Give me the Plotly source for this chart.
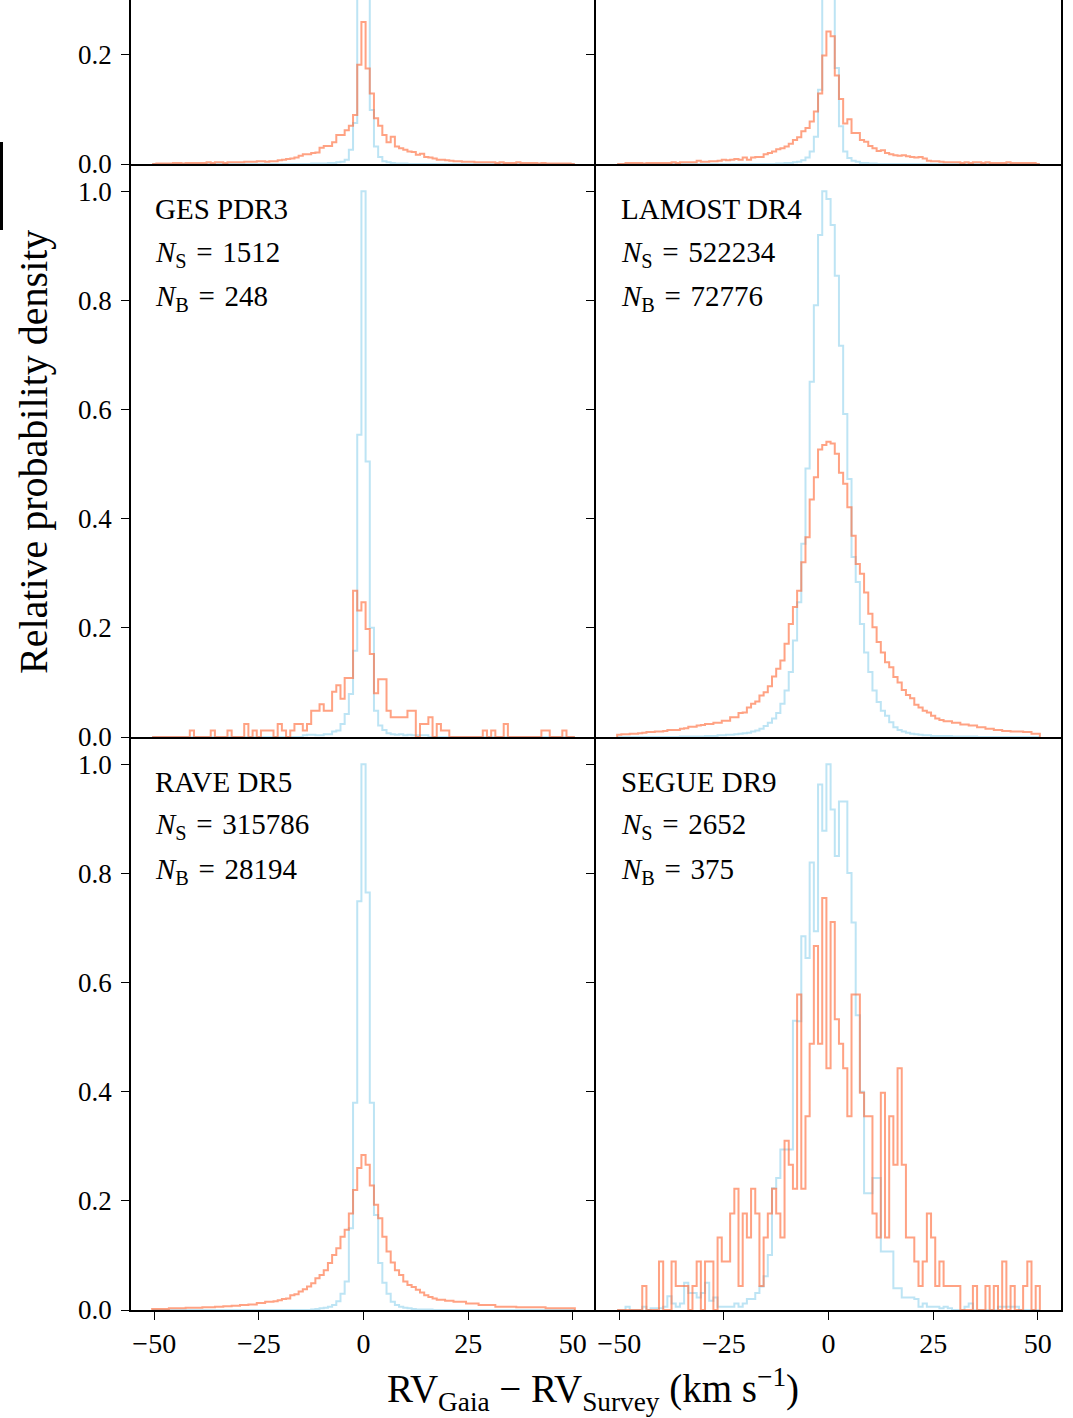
import plotly.graph_objects as go

# Histogram bins: unit-width bins centred on -50 ... 50 km/s
BIN_CENTERS = list(range(-50, 51))

# ---- top row (panels cut at the top of the page) ----
TL_BLUE = [
    0, 0, 0, 0, 0, 0, 0, 0, 0, 0,
    0, 0, 0, 0, 0, 0, 0, 0, 0, 0,
    0, 0, 0, 0, 0, 0, 0, 0, 0, 0,
    0, 0, 0, 0, 0, 0, 0, 0, 0.001, 0.001,
    0.001, 0.001, 0.002, 0.002, 0.003, 0.004, 0.008, 0.026, 0.075, 0.55,
    1.0,
    0.6, 0.099, 0.032, 0.013, 0.005, 0.003, 0.002, 0.001, 0.001, 0.001,
    0, 0, 0, 0, 0, 0, 0, 0, 0, 0,
    0, 0, 0, 0, 0, 0, 0, 0, 0, 0,
    0, 0, 0, 0, 0, 0, 0, 0, 0, 0,
    0, 0, 0, 0, 0, 0, 0, 0, 0, 0,
]

TL_ORANGE = [
    0.0, 0.001, 0.001, 0.001, 0.001, 0.002, 0.002, 0.001, 0.002, 0.002,
    0.002, 0.002, 0.002, 0.003, 0.002, 0.003, 0.003, 0.002, 0.003, 0.003,
    0.003, 0.003, 0.004, 0.004, 0.004, 0.005, 0.005, 0.004, 0.005, 0.005,
    0.007, 0.008, 0.009, 0.010, 0.012, 0.015, 0.018, 0.018, 0.020, 0.021,
    0.030, 0.033, 0.033, 0.040, 0.053, 0.053, 0.062, 0.070, 0.090, 0.182,
    0.260,
    0.175, 0.129, 0.084, 0.070, 0.053, 0.040, 0.050, 0.032, 0.029, 0.026,
    0.023, 0.022, 0.017, 0.019, 0.013, 0.012, 0.010, 0.008, 0.008, 0.007,
    0.006, 0.005, 0.005, 0.004, 0.004, 0.004, 0.003, 0.003, 0.003, 0.003,
    0.003, 0.002, 0.003, 0.002, 0.002, 0.002, 0.003, 0.002, 0.002, 0.002,
    0.002, 0.001, 0.002, 0.001, 0.001, 0.001, 0.001, 0.001, 0.001, 0.0,
]

TR_BLUE = [
    0, 0, 0, 0, 0, 0, 0, 0, 0, 0,
    0, 0, 0, 0, 0, 0, 0, 0, 0, 0,
    0, 0, 0, 0, 0, 0, 0, 0, 0, 0,
    0, 0, 0, 0, 0, 0, 0, 0, 0.001, 0.001,
    0.002, 0.002, 0.003, 0.004, 0.007, 0.012, 0.023, 0.050, 0.136, 0.70,
    1.0,
    0.75, 0.176, 0.069, 0.023, 0.011, 0.006, 0.004, 0.002, 0.002, 0.001,
    0.001, 0, 0, 0, 0, 0, 0, 0, 0, 0,
    0, 0, 0, 0, 0, 0, 0, 0, 0, 0,
    0, 0, 0, 0, 0, 0, 0, 0, 0, 0,
    0, 0, 0, 0, 0, 0, 0, 0, 0, 0,
]

TR_ORANGE = [
    0, 0, 0.002, 0.002, 0.002, 0.002, 0.001, 0.002, 0.002, 0.002,
    0.002, 0.002, 0.002, 0.003, 0.002, 0.003, 0.003, 0.003, 0.003, 0.006,
    0.004, 0.004, 0.005, 0.005, 0.006, 0.008, 0.007, 0.008, 0.009, 0.008,
    0.012, 0.008, 0.012, 0.013, 0.013, 0.018, 0.020, 0.023, 0.027, 0.029,
    0.032, 0.037, 0.044, 0.049, 0.060, 0.066, 0.078, 0.096, 0.129, 0.199,
    0.243,
    0.234, 0.162, 0.119, 0.074, 0.082, 0.057, 0.057, 0.044, 0.041, 0.033,
    0.029, 0.024, 0.025, 0.020, 0.018, 0.016, 0.015, 0.016, 0.014, 0.013,
    0.012, 0.013, 0.010, 0.006, 0.005, 0.005, 0.004, 0.003, 0.003, 0.003,
    0.003, 0.002, 0.003, 0.002, 0.003, 0.003, 0.002, 0.003, 0.002, 0.002,
    0.002, 0.002, 0.003, 0.002, 0.002, 0.002, 0.002, 0.002, 0.002, 0.0,
]

# ---- GES PDR3 ----
GES_BLUE = [
    0, 0, 0, 0, 0, 0, 0, 0, 0, 0,
    0, 0, 0, 0, 0, 0, 0, 0, 0, 0,
    0, 0, 0, 0, 0, 0, 0, 0, 0, 0,
    0, 0, 0, 0, 0, 0, 0.003, 0.004, 0.004, 0.003,
    0.003, 0.005, 0.005, 0.010, 0.012, 0.024, 0.042, 0.079, 0.158, 0.554,
    1.0,
    0.505, 0.200, 0.048, 0.021, 0.013, 0.007, 0.005, 0.004, 0.005, 0.003,
    0.004, 0.003, 0.003, 0.003, 0.003, 0, 0, 0, 0, 0,
    0, 0, 0, 0, 0, 0, 0, 0, 0, 0,
    0, 0, 0, 0, 0, 0, 0, 0, 0, 0,
    0, 0, 0, 0, 0, 0, 0, 0, 0, 0,
]

GES_ORANGE = [
    0, 0, 0, 0, 0, 0, 0, 0, 0, 0.012,
    0, 0, 0, 0, 0.012, 0, 0, 0, 0.012, 0,
    0, 0, 0.024, 0, 0.012, 0, 0.012, 0.012, 0.012, 0,
    0.024, 0.012, 0, 0.012, 0.024, 0.024, 0.012, 0.024, 0.048, 0.048,
    0.060, 0.048, 0.048, 0.083, 0.095, 0.070, 0.108, 0.108, 0.268, 0.232,
    0.247,
    0.198, 0.152, 0.080, 0.106, 0.106, 0.048, 0.036, 0.036, 0.036, 0.036,
    0.048, 0.048, 0, 0.024, 0.024, 0.036, 0, 0.024, 0.012, 0.012,
    0, 0, 0, 0, 0, 0, 0, 0, 0.012, 0,
    0.012, 0, 0, 0.024, 0, 0, 0, 0, 0, 0,
    0, 0, 0.012, 0.012, 0, 0, 0, 0.012, 0, 0,
]

# ---- LAMOST DR4 ----
LAMOST_BLUE = [
    0, 0, 0, 0, 0, 0, 0, 0, 0, 0,
    0, 0, 0, 0, 0, 0.001, 0.001, 0.001, 0.001, 0.001,
    0.001, 0.002, 0.002, 0.002, 0.003, 0.003, 0.004, 0.004, 0.005, 0.006,
    0.007, 0.008, 0.010, 0.012, 0.015, 0.020, 0.026, 0.034, 0.044, 0.061,
    0.085, 0.119, 0.177, 0.247, 0.354, 0.492, 0.651, 0.791, 0.920, 1.0,
    0.986,
    0.938, 0.845, 0.717, 0.592, 0.473, 0.330, 0.284, 0.207, 0.155, 0.119,
    0.085, 0.064, 0.048, 0.039, 0.027, 0.018, 0.013, 0.010, 0.008, 0.006,
    0.005, 0.004, 0.003, 0.003, 0.002, 0.002, 0.002, 0.002, 0.002, 0.001,
    0.001, 0.001, 0.001, 0.001, 0.001, 0, 0, 0, 0, 0,
    0, 0, 0, 0, 0, 0, 0, 0, 0, 0,
]

LAMOST_ORANGE = [
    0.004, 0.005, 0.005, 0.006, 0.006, 0.007, 0.008, 0.009, 0.009, 0.010,
    0.010, 0.011, 0.013, 0.013, 0.013, 0.015, 0.016, 0.019, 0.019, 0.021,
    0.022, 0.024, 0.024, 0.026, 0.026, 0.030, 0.030, 0.036, 0.036, 0.044,
    0.045, 0.054, 0.061, 0.065, 0.076, 0.082, 0.093, 0.111, 0.125, 0.140,
    0.171, 0.207, 0.238, 0.268, 0.320, 0.366, 0.435, 0.476, 0.527, 0.535,
    0.541,
    0.538, 0.519, 0.484, 0.464, 0.421, 0.369, 0.317, 0.299, 0.265, 0.226,
    0.201, 0.174, 0.155, 0.137, 0.128, 0.110, 0.100, 0.086, 0.077, 0.071,
    0.059, 0.054, 0.048, 0.045, 0.039, 0.034, 0.031, 0.029, 0.029, 0.026,
    0.026, 0.023, 0.023, 0.021, 0.021, 0.018, 0.018, 0.015, 0.015, 0.013,
    0.013, 0.011, 0.011, 0.010, 0.010, 0.010, 0.009, 0.009, 0.006, 0.006,
]

# ---- RAVE DR5 ----
RAVE_BLUE = [
    0, 0, 0, 0, 0, 0, 0, 0, 0, 0,
    0, 0, 0, 0, 0, 0, 0, 0, 0, 0,
    0, 0, 0, 0, 0, 0, 0, 0, 0, 0,
    0, 0, 0, 0, 0, 0, 0, 0, 0.001, 0.002,
    0.003, 0.004, 0.006, 0.009, 0.016, 0.030, 0.052, 0.150, 0.380, 0.749,
    1.0,
    0.765, 0.380, 0.174, 0.086, 0.050, 0.030, 0.015, 0.009, 0.006, 0.004,
    0.003, 0.002, 0.001, 0.001, 0.001, 0.001, 0, 0, 0, 0,
    0, 0, 0, 0, 0, 0, 0, 0, 0, 0,
    0, 0, 0, 0, 0, 0, 0, 0, 0, 0,
    0, 0, 0, 0, 0, 0, 0, 0, 0, 0,
]

RAVE_ORANGE = [
    0.002, 0.002, 0.002, 0.002, 0.003, 0.003, 0.003, 0.003, 0.004, 0.004,
    0.004, 0.004, 0.005, 0.005, 0.005, 0.006, 0.006, 0.007, 0.007, 0.008,
    0.008, 0.009, 0.009, 0.010, 0.010, 0.013, 0.013, 0.015, 0.015, 0.016,
    0.018, 0.020, 0.021, 0.027, 0.029, 0.034, 0.038, 0.043, 0.049, 0.058,
    0.064, 0.073, 0.086, 0.101, 0.113, 0.134, 0.147, 0.177, 0.220, 0.260,
    0.284,
    0.266, 0.228, 0.193, 0.168, 0.134, 0.107, 0.087, 0.073, 0.064, 0.052,
    0.046, 0.042, 0.037, 0.032, 0.027, 0.024, 0.021, 0.019, 0.019, 0.017,
    0.017, 0.015, 0.015, 0.015, 0.012, 0.012, 0.012, 0.009, 0.009, 0.009,
    0.009, 0.006, 0.006, 0.006, 0.006, 0.006, 0.005, 0.005, 0.005, 0.005,
    0.005, 0.005, 0.005, 0.003, 0.003, 0.003, 0.003, 0.003, 0.003, 0.003,
]

# ---- SEGUE DR9 ----
SEGUE_BLUE = [
    0, 0, 0.006, 0, 0, 0, 0.006, 0, 0.003, 0.003,
    0.003, 0.006, 0.025, 0.012, 0.006, 0.012, 0.050, 0.031, 0.031, 0.023,
    0.031, 0.050, 0.017, 0.023, 0.006, 0.006, 0.006, 0.006, 0.012, 0.006,
    0.012, 0.020, 0.020, 0.031, 0.043, 0.062, 0.101, 0.223, 0.242, 0.294,
    0.294, 0.294, 0.530, 0.529, 0.685, 0.645, 0.820, 0.694, 0.963, 0.878,
    1.0,
    0.917, 0.832, 0.932, 0.932, 0.801, 0.710, 0.540, 0.400, 0.214, 0.214,
    0.242, 0.242, 0.107, 0.107, 0.107, 0.040, 0.040, 0.023, 0.023, 0.023,
    0.020, 0.006, 0.012, 0.006, 0.006, 0.006, 0.003, 0.006, 0.003, 0,
    0, 0, 0.006, 0.012, 0, 0, 0, 0, 0, 0,
    0.006, 0.006, 0.006, 0.006, 0.006, 0, 0, 0, 0, 0,
]

SEGUE_ORANGE = [
    0, 0, 0, 0, 0, 0, 0.044, 0, 0, 0,
    0.089, 0, 0, 0.089, 0.044, 0.044, 0.044, 0, 0.044, 0.089,
    0, 0.089, 0.089, 0, 0.133, 0.089, 0.089, 0.177, 0.222, 0.044,
    0.177, 0.133, 0.222, 0.177, 0.044, 0.133, 0.177, 0.222, 0.177, 0.133,
    0.310, 0.266, 0.222, 0.578, 0.222, 0.355, 0.488, 0.667, 0.488, 0.755,
    0.443,
    0.711, 0.533, 0.488, 0.443, 0.355, 0.578, 0.578, 0.398, 0.355, 0.355,
    0.177, 0.133, 0.398, 0.133, 0.355, 0.266, 0.443, 0.266, 0.133, 0.133,
    0.089, 0.044, 0.089, 0.177, 0.133, 0.044, 0.089, 0.044, 0.044, 0.044,
    0.044, 0, 0, 0, 0.044, 0, 0, 0.044, 0, 0.044,
    0, 0.089, 0, 0.044, 0, 0, 0.044, 0.089, 0, 0.044,
]

SURVEY_NAMES = [None, None, "GES PDR3", "LAMOST DR4", "RAVE DR5", "SEGUE DR9"]
N_SINGLE = [None, None, 1512, 522234, 315786, 2652]
N_BINARY = [None, None, 248, 72776, 28194, 375]

PANEL_BLUE = [TL_BLUE, TR_BLUE, GES_BLUE, LAMOST_BLUE, RAVE_BLUE, SEGUE_BLUE]
PANEL_ORANGE = [TL_ORANGE, TR_ORANGE, GES_ORANGE, LAMOST_ORANGE, RAVE_ORANGE, SEGUE_ORANGE]

X_TICKS = [-50, -25, 0, 25, 50]
X_TICK_TEXT = ["\u221250", "\u221225", "0", "25", "50"]
Y_TICKS = [0.0, 0.2, 0.4, 0.6, 0.8, 1.0]

BLUE = "rgba(135, 206, 235, 0.55)"
ORANGE = "rgba(255, 105, 55, 0.62)"
FONT = "Liberation Serif"

# Page geometry (pixels)
W, H = 1073, 1418
ML, MR, MT, MB = 131, 12, 0, 108
PW, PH = W - ML - MR, H - MT - MB


def px_x(px):
    return (px - ML) / PW


def px_y(py):
    return (H - MB - py) / PH


row_px = [(None, 164), (164, 737), (737, 1310)]
row_dom = [[px_y(164), 1.0], [px_y(737), px_y(164)], [0.0, px_y(737)]]
col_dom = [[0.0, 0.5], [0.5, 1.0]]
units_per_px = 1.05 / 573.0
y_ranges = [[0, 164 * units_per_px], [0, 1.05], [0, 1.05]]

half = 0.5
edges = [c - half for c in BIN_CENTERS] + [BIN_CENTERS[-1] + half]


def step_xy(values):
    xs = [edges[0]] + edges[:-1] + [edges[-1]]
    ys = [0.0] + list(values) + [0.0]
    return xs, ys


fig = go.Figure()
layout = dict(
    width=W, height=H,
    margin=dict(l=ML, r=MR, t=MT, b=MB),
    paper_bgcolor="white", plot_bgcolor="white",
    showlegend=False,
    font=dict(family=FONT, color="black", size=27),
)

for p in range(6):
    r, c = divmod(p, 2)
    sfx = "" if p == 0 else str(p + 1)
    for vals, col in ((PANEL_BLUE[p], BLUE), (PANEL_ORANGE[p], ORANGE)):
        xs, ys = step_xy(vals)
        fig.add_trace(go.Scatter(
            x=xs, y=ys, mode="lines", line=dict(color=col, width=2, shape="hv"),
            xaxis="x" + sfx, yaxis="y" + sfx, hoverinfo="skip",
        ))
    # shared borders are drawn once: bottom line per panel, left line per
    # panel plus the right edge of the right-hand column
    layout["xaxis" + sfx] = dict(
        domain=col_dom[c], range=[-55.55, 55.55], anchor="y" + sfx,
        showline=True, linecolor="black", linewidth=1.6, mirror=False,
        showgrid=False, zeroline=False,
        ticks="outside" if r == 2 else "", ticklen=8, tickwidth=1.4, tickcolor="black",
        tickvals=X_TICKS, ticktext=X_TICK_TEXT, showticklabels=(r == 2),
        tickfont=dict(family=FONT, size=28, color="black"),
    )
    layout["yaxis" + sfx] = dict(
        domain=row_dom[r], range=y_ranges[r], anchor="x" + sfx,
        showline=True, linecolor="black", linewidth=1.6, mirror=(c == 1),
        showgrid=False, zeroline=False,
        ticks="outside", ticklen=8, tickwidth=1.4, tickcolor="black",
        tickvals=Y_TICKS, ticktext=["%.1f" % v for v in Y_TICKS],
        showticklabels=(c == 0), ticklabelstandoff=4,
        tickfont=dict(family=FONT, size=27, color="black"),
    )

EQ = "\u2004=\u2004"
annotations = []
for p in range(2, 6):
    r, c = divmod(p, 2)
    top = row_px[r][0]
    x0 = px_x(153 if c == 0 else 619)
    lines = [
        SURVEY_NAMES[p],
        "<i>N</i><sub>S</sub>" + EQ + "%d" % N_SINGLE[p],
        "<i>N</i><sub>B</sub>" + EQ + "%d" % N_BINARY[p],
    ]
    for k, txt in enumerate(lines):
        annotations.append(dict(
            text=txt, xref="paper", yref="paper", x=x0, y=px_y(top + 45 + 44.5 * k),
            xanchor="left", yanchor="middle", showarrow=False,
            font=dict(family=FONT, size=29, color="black"),
        ))

annotations.append(dict(
    text="RV<sub>Gaia</sub> \u2212 RV<sub>Survey</sub> (km s<sup>\u22121</sup>)",
    xref="paper", yref="paper", x=px_x(593), y=px_y(1389),
    xanchor="center", yanchor="middle", showarrow=False,
    font=dict(family=FONT, size=39, color="black"),
))
annotations.append(dict(
    text="Relative probability density",
    xref="paper", yref="paper", x=px_x(34), y=px_y(452),
    xanchor="center", yanchor="middle", textangle=-90, showarrow=False,
    font=dict(family=FONT, size=40, color="black"),
))
layout["annotations"] = annotations

layout["shapes"] = [dict(
    type="rect", xref="paper", yref="paper",
    x0=px_x(0), x1=px_x(3), y0=px_y(230), y1=px_y(142),
    fillcolor="black", line=dict(width=0), layer="above",
)]

fig.update_layout(**layout)
fig.write_html("out.html")
